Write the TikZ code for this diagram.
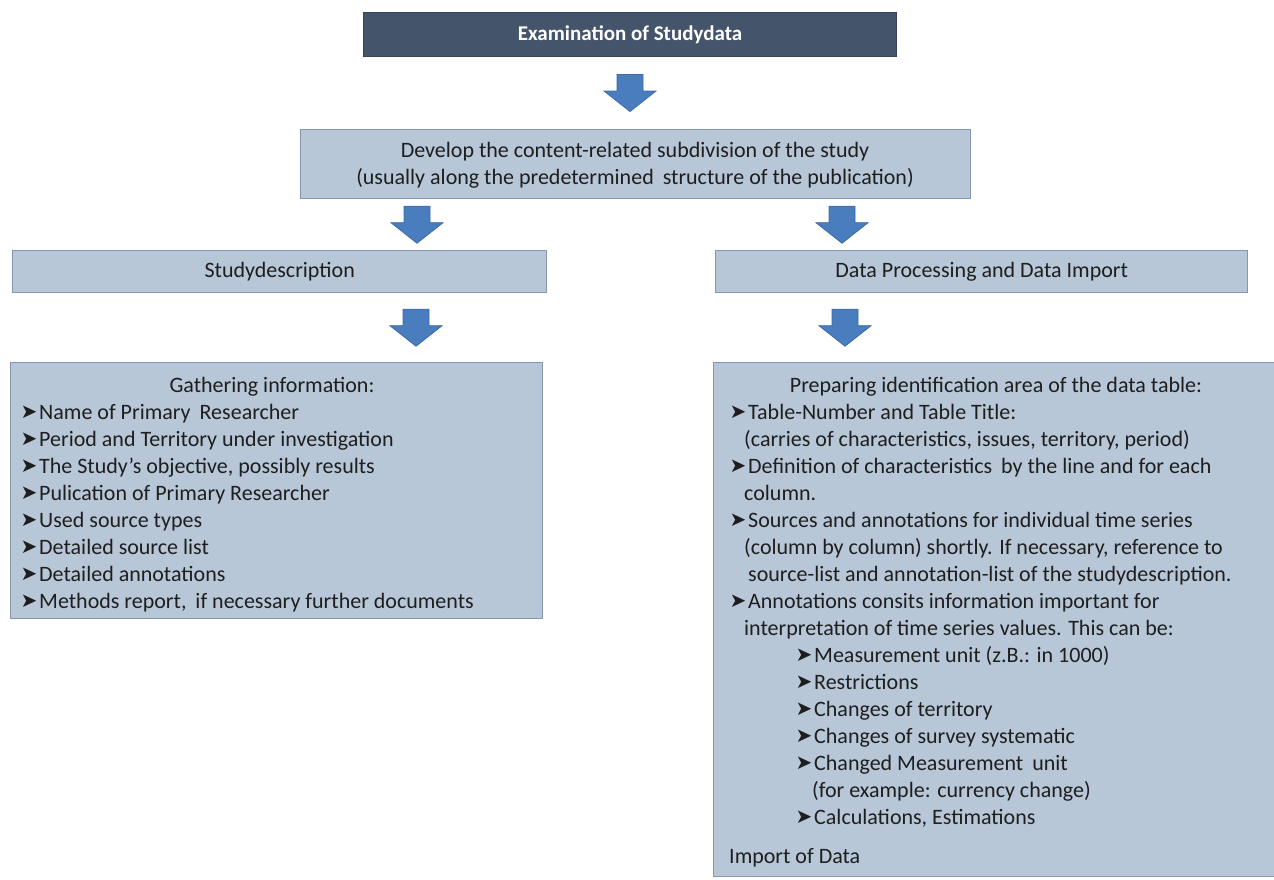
\documentclass[tikz,border=0pt]{standalone}
\usepackage{fontspec}
\setmainfont{Carlito}
\newfontfamily\dingfont{DejaVu Sans}
\usetikzlibrary{calc}

\definecolor{boxfill}{HTML}{B8C7D7}
\definecolor{boxline}{HTML}{8597AE}
\definecolor{headfill}{HTML}{44546A}
\definecolor{arrowfill}{HTML}{4A7DBD}
\definecolor{arrowline}{HTML}{3D6BA6}
\definecolor{txt}{HTML}{1E1E1E}

% arrowhead bullet
\newcommand\bul{\makebox[17pt][l]{\hspace*{-1.5pt}\raisebox{0.3pt}{\dingfont\fontsize{20}{20}\selectfont ➤}}}
% a column of left-aligned lines whose baseline is the first line
\newcommand\linecol[1]{\begin{tabular}[t]{@{}l@{}}#1\end{tabular}}
% the wider gaps between some words
\newcommand\wsp{\ \hspace*{4pt}}

\tikzset{
  panel/.style={draw=boxline, line width=1.4pt, fill=boxfill, inner sep=0pt},
  headpanel/.style={draw=headfill!80!black, line width=1pt, fill=headfill, inner sep=0pt},
  bodytext/.style={inner sep=0pt, text=txt, font=\fontsize{22}{27}\selectfont},
  pics/blockdown/.style={code={
    \filldraw[fill=arrowfill, draw=arrowline, line width=0.8pt, line join=miter]
      (-13,-18.5) -- (13,-18.5) -- (13,-2) -- (26,-2) -- (0,18.5)
      -- (-26,-2) -- (-13,-2) -- cycle;
  }}
}

% block arrow centred at x = #3 between the bottom of #1 and the top of #2
\newcommand\flowarrow[3]{%
  \path let \p1=(#1.south), \p2=(#2.north) in
    pic at ({#3pt},{(\y1+\y2)/2}) {blockdown};}

\begin{document}
\begin{tikzpicture}[x=1pt,y=-1pt]
\useasboundingbox (0,0) rectangle (1274,879);
\fill[white] (0,0) rectangle (1274,879);

% title bar
\node[headpanel, anchor=north west, minimum width=533pt, minimum height=44pt,
      text=white, font=\fontsize{21}{25}\selectfont\bfseries] (exam) at (363,12)
      {Examination of Studydata};

% subdivision box
\node[panel, anchor=north west, minimum width=670pt, minimum height=69pt] (dev) at (300,129) {};
\node[bodytext, anchor=base] (devA) at (635,157) {Develop the content-related subdivision of the study};
\node[bodytext, anchor=base] (devB) at (635,184) {(usually along the predetermined\wsp structure of the publication)};

% the two branches
\node[panel, anchor=north west, minimum width=534pt, minimum height=42pt, bodytext] (study) at (12,250)
      {Studydescription};
\node[panel, anchor=north west, minimum width=532pt, minimum height=42pt, bodytext] (data) at (715,250)
      {Data Processing and Data Import};

% left detail box
\node[panel, anchor=north west, minimum width=532pt, minimum height=256pt] (gather) at (10,362) {};
\node[bodytext, anchor=base] (gtitle) at (272,392) {Gathering information:};
\node[bodytext, anchor=base west] (glist) at (22,419) {\linecol{%
  \bul Name of Primary\wsp Researcher\\
  \bul Period and Territory under investigation\\
  \bul The Study’s objective, possibly results\\
  \bul Pulication of Primary Researcher\\
  \bul Used source types\\
  \bul Detailed source list\\
  \bul Detailed annotations\\
  \bul Methods report,\wsp if necessary further documents}};

% right detail box
\node[panel, anchor=north west, minimum width=562pt, minimum height=514pt] (prep) at (713,362) {};
\node[bodytext, anchor=base] (ptitle) at (996,392) {Preparing identification area of the data table:};
\node[bodytext, anchor=base west] (plist) at (731,419) {\linecol{%
  \bul Table-Number and Table Title:\\
  \hspace*{13pt}(carries of characteristics, issues, territory, period)\\
  \bul Definition of characteristics\wsp by the line and for each\\
  \hspace*{13pt}column.\\
  \bul Sources and annotations for individual time series\\
  \hspace*{13pt}(column by column) shortly. If necessary, reference to\\
  \hspace*{17pt}source-list and annotation-list of the studydescription.\\
  \bul Annotations consits information important for\\
  \hspace*{13pt}interpretation of time series values. This can be:\\
  \hspace*{66pt}\bul Measurement unit (z.B.: in 1000)\\
  \hspace*{66pt}\bul Restrictions\\
  \hspace*{66pt}\bul Changes of territory\\
  \hspace*{66pt}\bul Changes of survey systematic\\
  \hspace*{66pt}\bul Changed Measurement\wsp unit\\
  \hspace*{81pt}(for example: currency change)\\
  \hspace*{66pt}\bul Calculations, Estimations\\[12pt]
  \hspace*{-2pt}Import of Data}};

% block arrows between the boxes
\flowarrow{exam}{dev}{630}
\flowarrow{dev}{study}{417}
\flowarrow{dev}{data}{842}
\flowarrow{study}{gather}{416}
\flowarrow{data}{prep}{845}
\end{tikzpicture}
\end{document}
